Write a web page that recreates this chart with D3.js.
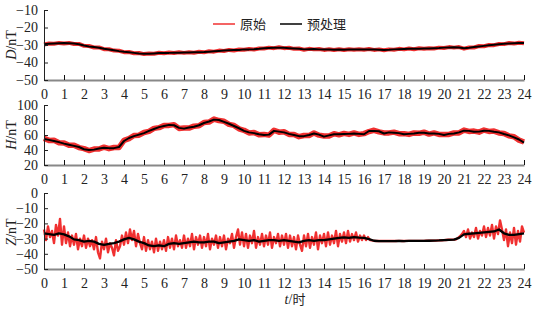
<!DOCTYPE html>
<html>
<head>
<meta charset="utf-8">
<script src="https://cdn.jsdelivr.net/npm/d3@7"></script>
<style>
  body { margin: 0; background: #fff; }
  text { font-family: "Liberation Serif", "Times New Roman", serif; font-size: 14px; fill: #222; }
  .cjk { font-family: "Noto Sans CJK SC", sans-serif; font-size: 13px; }
</style>
</head>
<body>
<svg id="chart" width="537" height="310"></svg>
<script>
// hours 0..24, black series every 0.25 h
const hourTicks = d3.range(0, 25);

const dClean = [-29.5, -29.3, -29.1, -29, -28.9, -29, -29.2, -29.6, -30.3, -30.8, -31.2, -31.6, -32.2, -32.6, -33, -33.5, -33.9, -34.2, -34.5, -34.8, -35, -35, -34.8, -34.6, -34.5, -34.5, -34.4, -34.4, -34.3, -34.3, -34.2, -34.1, -34, -33.8, -33.6, -33.4, -33.2, -33, -32.9, -32.8, -32.5, -32.5, -32.4, -32.2, -31.8, -31.7, -31.6, -31.5, -31.6, -31.8, -32, -32.2, -32.5, -32.4, -32.3, -32.5, -32.6, -32.6, -32.7, -32.6, -32.7, -32.6, -32.5, -32.6, -32.5, -32.5, -32.6, -32.7, -32.8, -32.7, -32.5, -32.4, -32.3, -32.2, -32.2, -32.1, -32, -32, -31.8, -31.7, -31.5, -31.4, -31.3, -31.4, -31.9, -31.6, -31.2, -30.8, -30.5, -30.2, -29.9, -29.6, -29.3, -29.1, -29, -28.9, -28.8];
const dRaw = [-29.7, -29.1, -29.3, -28.8, -29.1, -28.8, -29.4, -29.4, -30.5, -30.6, -31.4, -31.4, -32.4, -32.4, -33.2, -33.3, -34.1, -34, -34.7, -34.6, -35.2, -34.8, -35, -34.4, -34.7, -34.3, -34.6, -34.2, -34.5, -34.1, -34.4, -33.9, -34.2, -33.6, -33.8, -33.2, -33.4, -32.8, -33.1, -32.6, -32.7, -32.3, -32.6, -32, -32, -31.5, -31.8, -31.3, -31.8, -31.6, -32.2, -32, -32.7, -32.2, -32.5, -32.3, -32.8, -32.4, -32.9, -32.4, -32.9, -32.4, -32.7, -32.4, -32.7, -32.3, -32.8, -32.5, -33, -32.5, -32.7, -32.2, -32.5, -32, -32.4, -31.9, -32.2, -31.8, -32, -31.5, -31.7, -31.2, -31.5, -31.2, -32.1, -31.4, -31.4, -30.6, -30.7, -30, -30.1, -29.4, -29.5, -28.9, -29.2, -28.7, -29];

const hClean = [54.7, 53.5, 52, 50.5, 48.5, 47, 45.5, 44, 41, 40, 40.5, 42, 43, 42.5, 42.5, 44, 52, 56, 58.5, 60.5, 62.5, 65.5, 68, 70.5, 72, 73.5, 73, 69.5, 68.5, 70, 71, 73, 76, 78, 80.5, 80, 77.5, 75, 72, 69, 65.5, 63.5, 62.5, 61, 60, 60.5, 65.5, 64.5, 63.5, 61.5, 60, 58.5, 58.5, 60, 62, 60.5, 57.8, 59.5, 61, 61, 61.3, 61.5, 62, 61.5, 61, 65.3, 65.5, 65, 62, 63.5, 63, 62.5, 61, 61.5, 62, 63, 63, 62, 62, 61.5, 60, 61.5, 62, 63.5, 65.8, 65.5, 64.4, 64.5, 65.8, 65.5, 64.4, 63.5, 61.3, 59.5, 56.9, 54, 49.8];
const hRaw = [55.5, 52.8, 52.9, 49.8, 49.3, 46.2, 46.4, 43.2, 41.8, 39.3, 41.2, 41.3, 43.8, 41.8, 43.3, 43.3, 52.8, 55.2, 59.3, 59.8, 63.3, 64.8, 68.8, 69.8, 72.8, 72.8, 73.8, 68.8, 69.3, 69.2, 71.8, 72.2, 76.8, 77.3, 81.3, 79.2, 78.3, 74.2, 72.8, 68.2, 66.3, 62.8, 63.3, 60.2, 60.8, 59.8, 66.3, 63.8, 64.3, 60.8, 60.8, 57.8, 59.3, 59.2, 62.8, 59.8, 58.6, 58.8, 61.8, 60.2, 62.1, 60.8, 62.8, 60.8, 61.8, 64.6, 66.3, 64.2, 62.8, 62.8, 63.8, 61.8, 61.8, 60.8, 62.8, 62.2, 63.8, 61.2, 62.8, 60.8, 60.8, 60.8, 62.8, 62.8, 66.6, 64.8, 65.2, 63.8, 66.6, 64.8, 65.2, 62.8, 62.1, 58.8, 57.7, 53.2, 50.6];

const zClean = [-26.5, -27, -27.5, -26.5, -27.2, -28.5, -30.5, -31, -32, -31.5, -32, -33.5, -34.2, -33.5, -33, -32, -30.5, -29.5, -30.5, -32, -33, -34.5, -35, -34.5, -35, -33.5, -33, -33.5, -33, -32.5, -32, -32.5, -32.5, -32, -32, -33, -32.5, -32, -31.5, -30.5, -31, -31.5, -31, -32, -31.5, -31, -31, -31.5, -31, -31.5, -32, -32.5, -31.5, -31, -31.5, -31, -31, -30.5, -30, -29.5, -29.2, -29.5, -29, -29.3, -29.5, -30.3, -31.4, -31.6, -31.6, -31.6, -31.6, -31.5, -31.6, -31.5, -31.5, -31.5, -31.5, -31.4, -31.3, -31.2, -31, -30.8, -30.7, -29.5, -27.2, -26.8, -26.5, -26.2, -25.9, -25.6, -25.3, -24, -26.5, -27.5, -27.6, -27, -26.5];
// raw Z every 0.1 h
const zRaw = [
  -24, -31, -22, -29, -25, -33, -21, -28, -17, -34,
  -22, -33, -26, -35, -28, -34, -27, -37, -30, -35,
  -28, -36, -30, -35, -31, -37, -29, -39, -43, -32,
  -37, -30, -39, -33, -36, -41, -31, -38, -35, -28,
  -34, -26, -33, -24, -31, -25, -35, -27, -33, -37,
  -29, -38, -31, -37, -32, -39, -30, -38, -32, -37,
  -31, -38, -29, -36, -30, -37, -28, -35, -31, -36,
  -28, -36, -30, -35, -27, -37, -29, -34, -28, -36,
  -29, -35, -27, -37, -30, -34, -28, -36, -29, -35,
  -28, -37, -30, -33, -27, -36, -29, -24, -34, -26,
  -35, -27, -36, -28, -33, -25, -36, -29, -34, -27,
  -35, -28, -34, -26, -36, -29, -33, -27, -35, -28,
  -34, -27, -36, -28, -35, -29, -37, -28, -34, -38,
  -28, -35, -27, -36, -29, -34, -26, -37, -28, -33,
  -27, -35, -26, -34, -28, -33, -25, -35, -27, -32,
  -26, -33, -25, -32, -27, -31, -26, -32, -28, -31,
  -28, -31, -29, -31, -31.2, -31.5, -31.6, -31.6, -31.6, -31.6,
  -31.6, -31.6, -31.6, -31.6, -31.6, -31.6, -31.6, -31.5, -31.5, -31.6,
  -31.6, -31.5, -31.5, -31.5, -31.5, -31.5, -31.5, -31.5, -31.5, -31.5,
  -31.5, -31.4, -31.4, -31.4, -31.3, -31.3, -31.3, -31.2, -31.2, -31.1,
  -31, -30.9, -30.8, -30.8, -30.7, -30.7, -30.5, -29.5, -28.5, -27,
  -25, -29, -24, -30, -26, -29, -23, -30, -25, -28,
  -22, -29, -23, -28, -21, -30, -22, -27, -18, -24,
  -31, -24, -35, -26, -33, -23, -34, -25, -32, -22,
  -26
];

const dTicks = [-50, -40, -30, -20, -10];
const hTicks = [20, 40, 60, 80, 100];
const zTicks = [-50, -40, -30, -20, -10, 0];

const svg = d3.select("#chart");
const x = d3.scaleLinear().domain([0, 24]).range([44, 524]);
const fmt = d => d3.format("d")(d).replace("-", "\u2212");

const panels = [
  { label: "D", y: d3.scaleLinear().domain([-50, -10]).range([80, 10]), ticks: dTicks, raw: dRaw, clean: dClean, rawW: 4, cleanW: 2, titleY: 45 },
  { label: "H", y: d3.scaleLinear().domain([20, 100]).range([165, 105]), ticks: hTicks, raw: hRaw, clean: hClean, rawW: 5.5, cleanW: 2, titleY: 135 },
  { label: "Z", y: d3.scaleLinear().domain([-50, 0]).range([269, 193]), ticks: zTicks, raw: zRaw, clean: zClean, rawW: 2.4, cleanW: 2.3, titleY: 232 }
];

panels.forEach(p => {
  const y = p.y;
  const bottom = y.range()[0];

  // red original series
  const rawLine = d3.line()
    .x((d, i) => x(i * 24 / (p.raw.length - 1)))
    .y(d => y(d));
  svg.append("path")
    .datum(p.raw)
    .attr("fill", "none")
    .attr("stroke", "#f03030")
    .attr("stroke-width", p.rawW)
    .attr("stroke-linejoin", "round")
    .attr("d", rawLine);

  // black preprocessed series
  const cleanLine = d3.line()
    .x((d, i) => x(i * 24 / (p.clean.length - 1)))
    .y(d => y(d));
  svg.append("path")
    .datum(p.clean)
    .attr("fill", "none")
    .attr("stroke", "#000")
    .attr("stroke-width", p.cleanW)
    .attr("stroke-linejoin", "round")
    .attr("d", cleanLine);

  // x axis, ticks pointing up
  const gx = svg.append("g")
    .attr("transform", `translate(0, ${bottom})`)
    .call(d3.axisBottom(x).tickValues(hourTicks).tickSize(-5).tickPadding(9).tickSizeOuter(0));
  gx.select(".domain").attr("stroke", "#888").attr("stroke-width", 2);
  gx.selectAll(".tick line").attr("stroke", "#111");
  gx.selectAll("text").style("font-size", "14px").attr("fill", "#222");

  // y axis, ticks pointing inward
  const gy = svg.append("g")
    .attr("transform", "translate(44, 0)")
    .call(d3.axisLeft(y).tickValues(p.ticks).tickFormat(fmt).tickSize(-4).tickPadding(6).tickSizeOuter(0));
  gy.select(".domain").attr("stroke", "#222");
  gy.selectAll(".tick line").attr("stroke", "#222");
  gy.selectAll("text").style("font-size", "14px").attr("fill", "#222");

  // y title
  const t = svg.append("text")
    .attr("transform", `translate(16, ${p.titleY}) rotate(-90)`)
    .attr("text-anchor", "middle");
  t.append("tspan").style("font-style", "italic").text(p.label);
  t.append("tspan").text("/nT");
});

// x title
const xt = svg.append("text")
  .attr("x", 295)
  .attr("y", 304)
  .attr("text-anchor", "middle");
xt.append("tspan").style("font-style", "italic").text("t");
xt.append("tspan").text("/");
xt.append("tspan").attr("class", "cjk").text("时");

// legend
const legend = [
  { name: "原始", color: "#f03030", x1: 213 },
  { name: "预处理", color: "#000", x1: 280 }
];
legend.forEach(l => {
  svg.append("line")
    .attr("x1", l.x1).attr("x2", l.x1 + 22)
    .attr("y1", 24).attr("y2", 24)
    .attr("stroke", l.color)
    .attr("stroke-width", 1.5);
  svg.append("text")
    .attr("class", "cjk")
    .attr("x", l.x1 + 27)
    .attr("y", 29)
    .text(l.name);
});
</script>
</body>
</html>
